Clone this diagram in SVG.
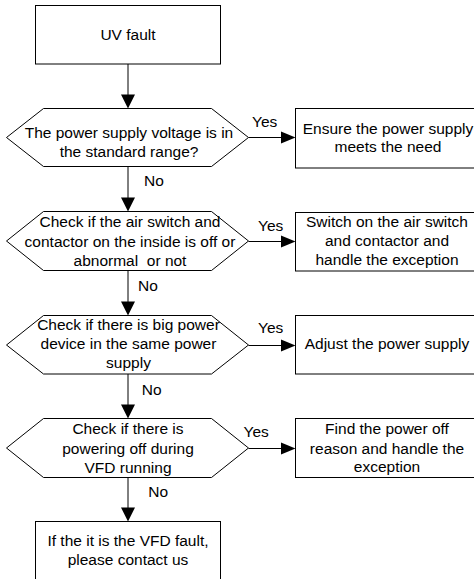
<svg xmlns="http://www.w3.org/2000/svg" width="474" height="579" viewBox="0 0 474 579">
<defs>
<style>
.n{fill:#fff;stroke:#000;stroke-width:1}
.t{font-family:"Liberation Sans",Arial,sans-serif;font-size:15.5px;fill:#000;text-anchor:middle}
.l{font-family:"Liberation Sans",Arial,sans-serif;font-size:15.5px;fill:#000}
.c{stroke:#000;stroke-width:1;fill:none}
.a{fill:#000}
</style>
</defs>
<rect width="474" height="579" fill="#fff"/>
<g id="connectors">
<line class="c" x1="128" y1="64" x2="128" y2="96"/>
<polygon class="a" points="121,94.5 135,94.5 128,108.5"/>
<line class="c" x1="128" y1="166.5" x2="128" y2="199"/>
<polygon class="a" points="121,197.5 135,197.5 128,211.5"/>
<line class="c" x1="128" y1="270.5" x2="128" y2="303"/>
<polygon class="a" points="121,301.5 135,301.5 128,315.5"/>
<line class="c" x1="128" y1="374" x2="128" y2="406"/>
<polygon class="a" points="121,404.5 135,404.5 128,418.5"/>
<line class="c" x1="128" y1="477.5" x2="128" y2="509"/>
<polygon class="a" points="121,507.5 135,507.5 128,521.5"/>
<line class="c" x1="248.5" y1="137.5" x2="282" y2="137.5"/>
<polygon class="a" points="281,131.5 281,143.5 295.5,137.5"/>
<line class="c" x1="248.5" y1="241.5" x2="282" y2="241.5"/>
<polygon class="a" points="281,235.5 281,247.5 295.5,241.5"/>
<line class="c" x1="248.5" y1="345.5" x2="282" y2="345.5"/>
<polygon class="a" points="281,339.5 281,351.5 295.5,345.5"/>
<line class="c" x1="248.5" y1="448.5" x2="282" y2="448.5"/>
<polygon class="a" points="281,442.5 281,454.5 295.5,448.5"/>
<text class="l" x="252" y="127">Yes</text>
<text class="l" x="258" y="230.5">Yes</text>
<text class="l" x="258" y="332.5">Yes</text>
<text class="l" x="243.5" y="436.7">Yes</text>
<text class="l" x="144" y="186">No</text>
<text class="l" x="138" y="290.5">No</text>
<text class="l" x="141.7" y="395">No</text>
<text class="l" x="148.3" y="497.3">No</text>
</g>
<g id="start">
<rect class="n" x="35.5" y="5.5" width="185" height="58.5"/>
<text class="t" x="128" y="40">UV fault</text>
</g>
<g id="d1">
<polygon class="n" points="6.5,137.5 43.5,108.5 211.5,108.5 248.5,137.5 211.5,166.5 43.5,166.5"/>
<text class="t" x="129" y="137.5">The power supply voltage is in</text>
<text class="t" x="129" y="156.5">the standard range?</text>
</g>
<g id="r1">
<rect class="n" x="295.5" y="108.5" width="185" height="59.5"/>
<text class="t" x="388" y="134">Ensure the power supply</text>
<text class="t" x="388" y="152">meets the need</text>
</g>
<g id="d2">
<polygon class="n" points="6.5,241 43.5,211.5 211.5,211.5 248.5,241 211.5,270.5 43.5,270.5"/>
<text class="t" x="130" y="227.3">Check if the air switch and</text>
<text class="t" x="130" y="247">contactor on the inside is off or</text>
<text class="t" x="130" y="266" xml:space="preserve">abnormal  or not</text>
</g>
<g id="r2">
<rect class="n" x="295.5" y="212.5" width="185" height="58.5"/>
<text class="t" x="387" y="227.3">Switch on the air switch</text>
<text class="t" x="387" y="246">and contactor and</text>
<text class="t" x="387" y="265">handle the exception</text>
</g>
<g id="d3">
<polygon class="n" points="6.5,345 43.5,315.5 211.5,315.5 248.5,345 211.5,374 43.5,374"/>
<text class="t" x="128.5" y="330">Check if there is big power</text>
<text class="t" x="128.5" y="349.3">device in the same power</text>
<text class="t" x="128.5" y="368.3">supply</text>
</g>
<g id="r3">
<rect class="n" x="295.5" y="315.5" width="185" height="58.5"/>
<text class="t" x="387" y="349.3">Adjust the power supply</text>
</g>
<g id="d4">
<polygon class="n" points="6.5,448 43.5,418.5 211.5,418.5 248.5,448 211.5,477.5 43.5,477.5"/>
<text class="t" x="128" y="434.3">Check if there is</text>
<text class="t" x="128" y="454">powering off during</text>
<text class="t" x="128" y="472.7">VFD running</text>
</g>
<g id="r4">
<rect class="n" x="295.5" y="418.5" width="185" height="59"/>
<text class="t" x="387" y="434.3">Find the power off</text>
<text class="t" x="387" y="454">reason and handle the</text>
<text class="t" x="387" y="472">exception</text>
</g>
<g id="end">
<rect class="n" x="35.5" y="521.5" width="185" height="60"/>
<text class="t" x="128" y="546">If the it is the VFD fault,</text>
<text class="t" x="128" y="565">please contact us</text>
</g>
</svg>
